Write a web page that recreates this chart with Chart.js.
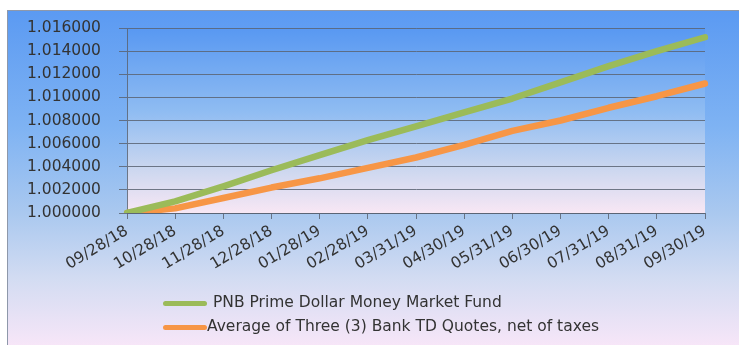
<!DOCTYPE html>
<html>
<head>
<meta charset="utf-8">
<script src="https://cdn.jsdelivr.net/npm/chart.js@4"></script>
<style>
  body { margin: 0; background: #fff; }
  #box {
    position: absolute; left: 7px; top: 10px; width: 732px; height: 335px;
    border-left: 1px solid #8e98aa; border-top: 1px solid #8e98aa;
    background: linear-gradient(to bottom, #5b9af2 0%, #7fb3f3 35%, #a9c8ef 60%, #d3dcf2 80%, #f7e6f8 100%);
  }
  #legend { position: absolute; left: 155px; top: 281px; font: 15.5px "DejaVu Sans", sans-serif; color: #333; }
  .item { position: relative; height: 24px; }
  .swatch { position: absolute; left: 0; top: 9px; width: 44px; height: 5px; border-radius: 3px; }
  .item span { position: absolute; top: 1px; white-space: nowrap; }
</style>
</head>
<body>
<div id="box">
  <canvas id="chart"></canvas>
  <div id="legend"></div>
</div>
<script>
const labels = ['09/28/18', '10/28/18', '11/28/18', '12/28/18', '01/28/19', '02/28/19', '03/31/19',
                '04/30/19', '05/31/19', '06/30/19', '07/31/19', '08/31/19', '09/30/19'];
const pnbFund = [1.000000, 1.001000, 1.002300, 1.003700, 1.005000, 1.006300, 1.007500,
                 1.008700, 1.009900, 1.011300, 1.012700, 1.014000, 1.015200];
const bankTd = [1.000000, 1.000400, 1.001300, 1.002200, 1.003000, 1.003900, 1.004800,
                1.005900, 1.007100, 1.008000, 1.009100, 1.010100, 1.011200];
const seriesNames = ['PNB Prime Dollar Money Market Fund', 'Average of Three (3) Bank TD Quotes, net of taxes'];

const gridColor = 'rgba(90, 100, 115, 0.85)';
const tickFont = { family: 'DejaVu Sans', size: 15.5 };

// fill the plot area with its own blue-to-pink gradient
const plotBackground = {
  id: 'plotBackground',
  beforeDraw(chart) {
    const { ctx, chartArea: a } = chart;
    const g = ctx.createLinearGradient(0, a.top, 0, a.bottom);
    g.addColorStop(0, '#5898f2');
    g.addColorStop(0.45, '#8fbcf2');
    g.addColorStop(0.75, '#c9d6ef');
    g.addColorStop(1, '#f8e7f4');
    ctx.save();
    ctx.fillStyle = g;
    ctx.fillRect(a.left, a.top, a.right - a.left, a.bottom - a.top);
    ctx.restore();
  }
};

const chart = new Chart(document.getElementById('chart'), {
  type: 'line',
  data: {
    labels: labels,
    datasets: [
      { label: seriesNames[0], data: pnbFund, borderColor: '#9bbb59', backgroundColor: '#9bbb59' },
      { label: seriesNames[1], data: bankTd, borderColor: '#f79646', backgroundColor: '#f79646' }
    ]
  },
  options: {
    responsive: true,
    maintainAspectRatio: false,
    animation: false,
    layout: { padding: { top: 17, right: 35, bottom: 0, left: 19 } },
    elements: {
      line: { borderWidth: 6.5, tension: 0, borderCapStyle: 'round', borderJoinStyle: 'round' },
      point: { radius: 0 }
    },
    plugins: { legend: { display: false }, tooltip: { enabled: false } },
    scales: {
      x: {
        offset: false,
        afterFit: s => { s.height = 133; },
        grid: { drawOnChartArea: false, tickLength: 6, color: gridColor },
        border: { color: gridColor },
        ticks: { color: '#333', font: tickFont, minRotation: 31, maxRotation: 31, autoSkip: false, padding: 3 }
      },
      y: {
        min: 1.0,
        max: 1.016,
        afterFit: s => { s.width = 100; },
        grid: { tickLength: 8, color: gridColor },
        border: { color: gridColor },
        ticks: { stepSize: 0.002, color: '#333', font: tickFont, padding: 4, crossAlign: 'far',
                 callback: v => v.toFixed(6) }
      }
    }
  },
  plugins: [plotBackground]
});

// stacked legend below the axis
const legend = document.getElementById('legend');
chart.data.datasets.forEach((ds, i) => {
  const item = document.createElement('div');
  item.className = 'item';
  item.innerHTML = `<div class="swatch" style="background:${ds.borderColor}"></div>` +
                   `<span style="left:${i === 0 ? 50 : 44}px">${ds.label}</span>`;
  legend.appendChild(item);
});
</script>
</body>
</html>
